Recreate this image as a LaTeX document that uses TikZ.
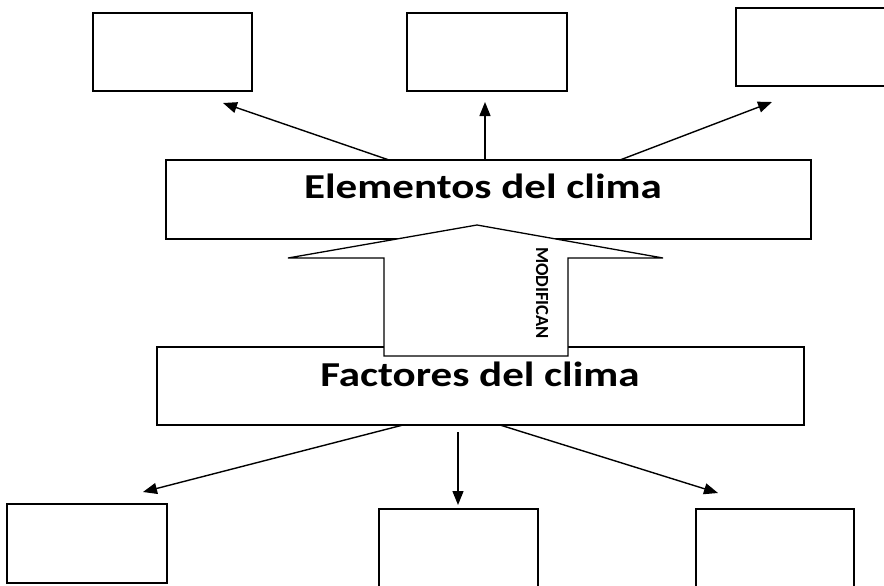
\documentclass[tikz,border=0pt]{standalone}
\usepackage{graphicx}
\usepackage{fontspec}
\setmainfont{Carlito}
\usetikzlibrary{arrows.meta}
\begin{document}
\begin{tikzpicture}[x=1pt,y=-1pt,
				box node/.style = {draw, rectangle, line width=1.8pt, inner sep=0pt, outer sep=0pt, anchor=north west},
				title/.style = {anchor=base, font=\fontsize{35}{40}\selectfont\bfseries},
				arr/.style = {line width=1.4pt, -{Triangle[length=14pt,width=11pt]}}]
				
				\useasboundingbox (0,0) rectangle (884,586);
				
				\node[box node, minimum width=159pt, minimum height=78pt] (t1) at (93,13) {};
				\node[box node, minimum width=160pt, minimum height=78pt] (t2) at (407,13) {};
				\node[box node, minimum width=160pt, minimum height=78pt] (t3) at (736,8) {};
				\node[box node, minimum width=645pt, minimum height=79pt] (el) at (166,160) {};
				\node[box node, minimum width=647pt, minimum height=78pt] (fa) at (157,347) {};
				\node[box node, minimum width=160pt, minimum height=79pt] (b1) at (7,504) {};
				\node[box node, minimum width=159pt, minimum height=90pt] (b2) at (379,509) {};
				\node[box node, minimum width=158pt, minimum height=90pt] (b3) at (696,509) {};
				
				\node[title] (elt) at (483,198) {\scalebox{1.23}[1]{Elementos del clima}};
				\node[title] (fat) at (480,386) {\scalebox{1.23}[1]{Factores del clima}};
				
				% flecha grande
				\draw[line width=1.3pt, fill=white] (384,356) -- (384,258) -- (288,258) -- (477,225)
					-- (663,258) -- (568,258) -- (568,356) -- cycle;
				\node[rotate=-90, font=\fontsize{18.5}{18}\selectfont\bfseries] (mod) at (542,293) {MODIFICAN};
				
				\coordinate (tl) at (223,103);
				\coordinate (tm) at (485,102);
				\coordinate (tr) at (772,102);
				\coordinate (bl) at (143,492);
				\coordinate (bm) at (458,505);
				\coordinate (br) at (718,493);
				
				\draw[arr] ([xshift=-99.5pt]el.north) -- (tl);
				\draw[arr] (tm |- el.north) -- (tm);
				\draw[arr] ([xshift=131.5pt]el.north) -- (tr);
				\draw[arr] ([xshift=-77.5pt]fa.south) -- (bl);
				\draw[arr] ([yshift=-7pt]bm |- fa.south) -- (bm);
				\draw[arr] ([xshift=19.5pt]fa.south) -- (br);
\end{tikzpicture}
\end{document}
